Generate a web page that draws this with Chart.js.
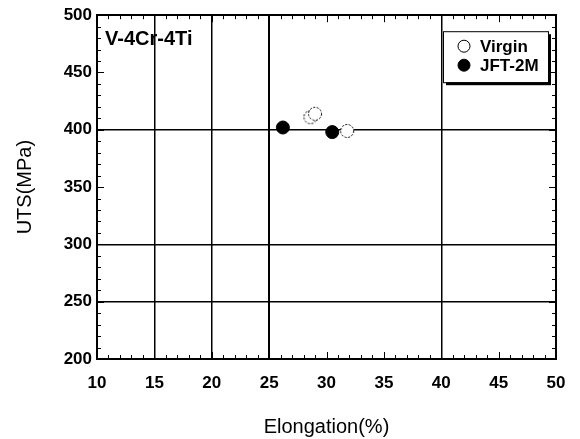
<!DOCTYPE html>
<html>
<head>
<meta charset="utf-8">
<title>V-4Cr-4Ti UTS vs Elongation</title>
<script src="https://cdn.jsdelivr.net/npm/chart.js@4.4.1/dist/chart.umd.min.js"></script>
<style>
  html, body { margin: 0; padding: 0; background: #fff; }
  #wrap { width: 580px; height: 439px; position: relative; }
</style>
</head>
<body>
<div id="wrap"><canvas id="utsChart"></canvas></div>
<script>
// --- data ---
const virginElong = [28.6, 29.0, 31.8];
const virginUTS = [411, 414, 399];
const jftElong = [26.2, 30.5];
const jftUTS = [402, 398];

const xGridAt = [15, 20, 25, 40];
const yGridAt = [250, 300, 400];

const FONT = '"Liberation Sans", Arial, Helvetica, sans-serif';

function toPoints(xs, ys) {
    return xs.map((x, i) => ({ x: x, y: ys[i] }));
}

// open circle with a dotted outline (points have no borderDash option)
function dottedCircle(r) {
    const c = document.createElement('canvas');
    const s = Math.ceil(r * 2 + 3);
    c.width = s;
    c.height = s;
    const g = c.getContext('2d');
    g.beginPath();
    g.arc(s / 2, s / 2, r, 0, Math.PI * 2);
    g.fillStyle = '#fff';
    g.fill();
    g.setLineDash([2, 1.5]);
    g.lineWidth = 1;
    g.strokeStyle = '#000';
    g.stroke();
    return c;
}

// inward minor/major ticks on all four sides
const innerTicks = {
    id: 'innerTicks',
    afterDraw(chart) {
        const { ctx, chartArea: a, scales } = chart;
        ctx.save();
        ctx.strokeStyle = '#000';
        ctx.lineWidth = 1;
        ctx.beginPath();
        for (let v = 10; v <= 50; v++) {
            const px = Math.round(scales.x.getPixelForValue(v)) + 0.5;
            const len = v % 5 === 0 ? 7 : 4;
            ctx.moveTo(px, a.bottom);
            ctx.lineTo(px, a.bottom - len);
            ctx.moveTo(px, a.top);
            ctx.lineTo(px, a.top + len);
        }
        for (let v = 200; v <= 500; v += 10) {
            const py = Math.round(scales.y.getPixelForValue(v)) + 0.5;
            const len = v % 50 === 0 ? 7 : 4;
            ctx.moveTo(a.left, py);
            ctx.lineTo(a.left + len, py);
            ctx.moveTo(a.right, py);
            ctx.lineTo(a.right - len, py);
        }
        ctx.stroke();
        ctx.restore();
    }
};

// alloy label and boxed legend inside the plot
const annotations = {
    id: 'annotations',
    afterDraw(chart) {
        const { ctx, chartArea: a } = chart;
        ctx.save();
        ctx.fillStyle = '#000';
        ctx.font = 'bold 20px ' + FONT;
        ctx.textBaseline = 'alphabetic';
        ctx.textAlign = 'left';
        ctx.fillText('V-4Cr-4Ti', a.left + 8, a.top + 30);

        const bx = a.right - 113, by = a.top + 16, bw = 105, bh = 51;
        ctx.fillRect(bx + 3, by + 3, bw, bh);
        ctx.fillStyle = '#fff';
        ctx.fillRect(bx, by, bw, bh);
        ctx.strokeStyle = '#000';
        ctx.lineWidth = 1;
        ctx.strokeRect(bx + 0.5, by + 0.5, bw, bh);

        ctx.font = 'bold 17px ' + FONT;
        ctx.textBaseline = 'middle';
        chart.data.datasets.forEach((ds, i) => {
            const cy = by + 15 + i * 19;
            ctx.beginPath();
            ctx.arc(bx + 21, cy, 6, 0, Math.PI * 2);
            ctx.fillStyle = i === 0 ? '#fff' : '#000';
            ctx.fill();
            ctx.strokeStyle = '#000';
            ctx.stroke();
            ctx.fillStyle = '#000';
            ctx.fillText(ds.label, bx + 37, cy + 1);
        });
        ctx.restore();
    }
};

const ctx = document.getElementById('utsChart');

new Chart(ctx, {
    type: 'scatter',
    data: {
        datasets: [
            {
                label: 'Virgin',
                data: toPoints(virginElong, virginUTS),
                pointStyle: dottedCircle(6.5),
                pointRadius: 7
            },
            {
                label: 'JFT-2M',
                data: toPoints(jftElong, jftUTS),
                pointBackgroundColor: '#000',
                pointBorderColor: '#000',
                pointBorderWidth: 1,
                pointRadius: 6.5
            }
        ]
    },
    options: {
        responsive: true,
        maintainAspectRatio: false,
        animation: false,
        layout: { padding: { top: 13, right: 24, left: 0, bottom: 0 } },
        plugins: {
            legend: { display: false },
            tooltip: { enabled: false }
        },
        scales: {
            x: {
                type: 'linear',
                min: 10,
                max: 50,
                ticks: {
                    stepSize: 5,
                    color: '#000',
                    padding: 14,
                    maxRotation: 0,
                    font: { family: FONT, size: 17, weight: 'bold' }
                },
                grid: {
                    drawTicks: false,
                    color: c => xGridAt.includes(c.tick.value) ? '#000' : 'rgba(0,0,0,0)',
                    lineWidth: c => c.tick.value === 25 ? 2 : 1.5
                },
                border: { display: true, color: '#000', width: 2 },
                title: {
                    display: true,
                    text: 'Elongation(%)',
                    color: '#000',
                    padding: { top: 0, bottom: 0 },
                    font: { family: FONT, size: 20 }
                },
                afterFit: s => { s.height = 80; }
            },
            x2: {
                type: 'linear',
                position: 'top',
                min: 10,
                max: 50,
                ticks: { display: false },
                grid: { display: false, drawTicks: false },
                border: { display: true, color: '#000', width: 2 }
            },
            y: {
                type: 'linear',
                min: 200,
                max: 500,
                ticks: {
                    stepSize: 50,
                    color: '#000',
                    padding: 5,
                    font: { family: FONT, size: 17, weight: 'bold' }
                },
                grid: {
                    drawTicks: false,
                    color: c => yGridAt.includes(c.tick.value) ? '#000' : 'rgba(0,0,0,0)',
                    lineWidth: 1.5
                },
                border: { display: true, color: '#000', width: 2 },
                title: {
                    display: true,
                    text: 'UTS(MPa)',
                    color: '#000',
                    padding: { top: 13, bottom: 0 },
                    font: { family: FONT, size: 20 }
                },
                afterFit: s => { s.width = 97; }
            },
            y2: {
                type: 'linear',
                position: 'right',
                min: 200,
                max: 500,
                ticks: { display: false },
                grid: { display: false, drawTicks: false },
                border: { display: true, color: '#000', width: 2 }
            }
        }
    },
    plugins: [innerTicks, annotations]
});
</script>
</body>
</html>
